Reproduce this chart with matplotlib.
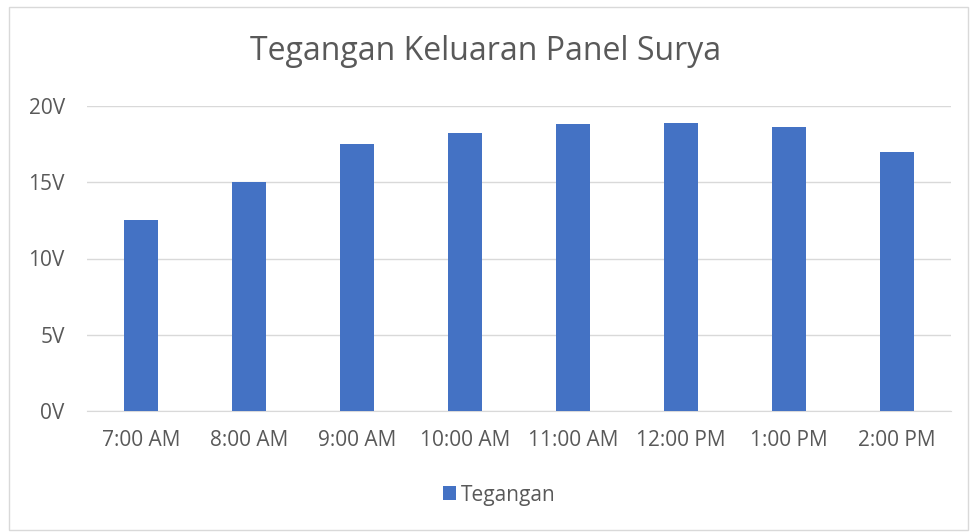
import numpy as np
import matplotlib.pyplot as plt
from matplotlib.patches import Rectangle

plt.rcParams['font.family'] = ['Open Sans', 'DejaVu Sans']

jam = ['7:00 AM', '8:00 AM', '9:00 AM', '10:00 AM', '11:00 AM', '12:00 PM', '1:00 PM', '2:00 PM']
tegangan = [12.5, 15.0, 17.5, 18.2, 18.8, 18.9, 18.6, 17.0]
yticks = [0, 5, 10, 15, 20]

grey = '#595959'
blue = '#4472C4'

fig = plt.figure(figsize=(9.72, 5.32), dpi=100)
ax = fig.add_axes([87 / 972, 121 / 532, 864 / 972, 305 / 532])

x = np.arange(len(jam))
ax.bar(x, tegangan, width=0.31, color=blue, label='Tegangan', zorder=3)

ax.set_xlim(-0.5, len(jam) - 0.5)
ax.set_ylim(0, 20)
ax.set_yticks(yticks)
ax.set_yticklabels([f'{v}V' for v in yticks])
ax.set_xticks(x)
ax.set_xticklabels(jam)
ax.grid(axis='y', color='#D9D9D9', linewidth=1, zorder=0)
for s in ['top', 'right', 'left']:
    ax.spines[s].set_visible(False)
ax.spines['bottom'].set_color('#D9D9D9')
ax.tick_params(length=0, labelsize=15, colors=grey, pad=14)
ax.tick_params(axis='y', pad=16)

fig.text(0.5, 1 - 52 / 532, 'Tegangan Keluaran Panel Surya', ha='center', va='center',
         fontsize=23, color=grey)

fig.legend(loc='center', bbox_to_anchor=(0.514, 1 - 495 / 532), frameon=False,
           fontsize=15, labelcolor=grey, handlelength=0.62, handleheight=0.62,
           handletextpad=0.25)

fig.patches.append(Rectangle((9 / 972, 2 / 532), 959 / 972, 523 / 532, transform=fig.transFigure,
                             fill=False, edgecolor='#D9D9D9', linewidth=1))

fig.savefig('out.png', dpi=100)
